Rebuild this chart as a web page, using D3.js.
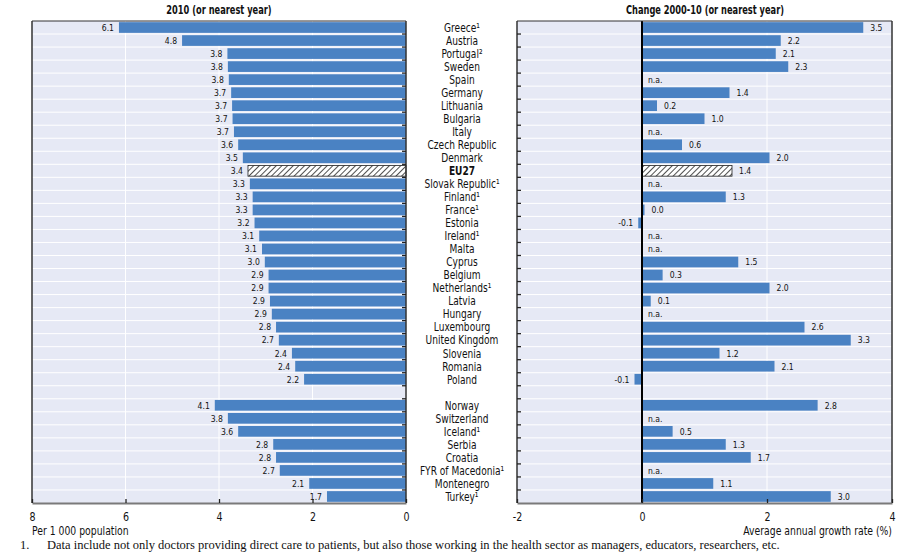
<!DOCTYPE html>
<html><head><meta charset="utf-8">
<script src="https://cdn.jsdelivr.net/npm/d3@7"></script>
<style>
body{margin:0;background:#fff}
svg{display:block}
text{font-family:"Liberation Sans Narrow","Arial Narrow","DejaVu Sans Condensed",sans-serif;fill:#111}
</style>
</head><body>
<svg id="c" width="915" height="552"></svg>
<script>
const countries = ["Greece¹","Austria","Portugal²","Sweden","Spain","Germany","Lithuania","Bulgaria","Italy","Czech Republic","Denmark","EU27","Slovak Republic¹","Finland¹","France¹","Estonia","Ireland¹","Malta","Cyprus","Belgium","Netherlands¹","Latvia","Hungary","Luxembourg","United Kingdom","Slovenia","Romania","Poland","","Norway","Switzerland","Iceland¹","Serbia","Croatia","FYR of Macedonia¹","Montenegro","Turkey¹"];
const density2010 = [6.14,4.79,3.82,3.81,3.79,3.74,3.72,3.71,3.68,3.59,3.49,3.38,3.34,3.28,3.28,3.24,3.14,3.08,3.02,2.94,2.94,2.91,2.87,2.78,2.72,2.44,2.37,2.18,null,4.09,3.81,3.59,2.84,2.78,2.70,2.07,1.69];
const growth2000_10 = [3.54,2.22,2.14,2.34,null,1.40,0.24,1.00,null,0.64,2.04,1.44,null,1.34,0.04,-0.06,null,null,1.54,0.33,2.04,0.14,null,2.60,3.34,1.24,2.12,-0.12,null,2.81,null,0.49,1.34,1.74,null,1.14,3.02];
const leftTicks = [8,6,4,2,0];
const rightTicks = [-2,0,2,4];
const leftTitle = "2010 (or nearest year)";
const rightTitle = "Change 2000-10 (or nearest year)";
const leftAxisTitle = "Per 1 000 population";
const rightAxisTitle = "Average annual growth rate (%)";
const footNum = "1.";
const footText = "Data include not only doctors providing direct care to patients, but also those working in the health sector as managers, educators, researchers, etc.";
const highlight = "EU27";

const svg = d3.select("#c");
const BLUE = "#4a82c3", BG = "#e6e9f5";
const n = countries.length;
const y = d3.scaleBand().domain(d3.range(n)).range([21, 503]).paddingInner(0.18).paddingOuter(0.09);
const xL = d3.scaleLinear().domain([0, 8]).range([406, 32]);
const xR = d3.scaleLinear().domain([-2, 4]).range([517, 892]);

function ctext(sel, x, yy, s) {
  return sel.append("text").attr("transform", `translate(${x},${yy}) scale(${s},1)`);
}

const defs = svg.append("defs");
const pat = defs.append("pattern").attr("id","hatch").attr("patternUnits","userSpaceOnUse")
  .attr("width",4).attr("height",4).attr("patternTransform","rotate(45)");
pat.append("rect").attr("width",4).attr("height",4).attr("fill","#fff");
pat.append("line").attr("x1",0).attr("y1",0).attr("x2",0).attr("y2",4).attr("stroke","#222").attr("stroke-width",1.6);

function panel(x, vals, gridVals, side) {
  const [x0, x1] = d3.extent(x.range());
  const [y0, y1] = y.range();
  const g = svg.append("g");
  g.append("rect").attr("x",x0).attr("y",y0).attr("width",x1-x0).attr("height",y1-y0).attr("fill",BG);
  g.selectAll(".hs").data(d3.range(1,n)).join("line")
    .attr("x1",x0).attr("x2",x1)
    .attr("y1",k=>y0+k*y.step()).attr("y2",k=>y0+k*y.step())
    .attr("stroke","#fff").attr("stroke-width",1);
  g.selectAll(".vs").data(gridVals).join("line")
    .attr("x1",d=>x(d)).attr("x2",d=>x(d)).attr("y1",y0).attr("y2",y1)
    .attr("stroke","#fff").attr("stroke-width",1);
  const rows = d3.range(n).filter(i => countries[i] !== "");
  const withVal = rows.filter(i => vals[i] !== null);
  g.selectAll(".bar").data(withVal).join("rect")
    .attr("x", i => Math.min(x(0), x(vals[i])))
    .attr("width", i => Math.max(1, Math.abs(x(vals[i]) - x(0))))
    .attr("y", i => y(i)).attr("height", y.bandwidth())
    .attr("fill", i => countries[i] === highlight ? "url(#hatch)" : BLUE)
    .attr("stroke", i => countries[i] === highlight ? "#222" : "none")
    .attr("stroke-width", 0.8);
  rows.forEach(i => {
    const v = vals[i];
    let lx, anchor;
    if (v === null) { lx = x(0) + 6; anchor = "start"; }
    else if (side === "left") { lx = x(v) - 5; anchor = "end"; }
    else if (v < 0) { lx = x(v) - 5; anchor = "end"; }
    else { lx = x(v) + 7; anchor = "start"; }
    ctext(g, lx, y(i) + y.bandwidth()/2, 0.9)
      .attr("dy","0.35em").attr("font-size", 9.5).attr("text-anchor", anchor)
      .text(v === null ? "n.a." : v.toFixed(1));
  });
  return g;
}

panel(xL, density2010, [6,4,2], "left");
panel(xR, growth2000_10, [2], "right");

svg.append("line").attr("x1",xR(0)).attr("x2",xR(0)).attr("y1",21).attr("y2",503)
  .attr("stroke","#000").attr("stroke-width",2);

function frame(x, tickX, tickDir) {
  const [x0, x1] = d3.extent(x.range());
  const [y0, y1] = y.range();
  const g = svg.append("g");
  g.append("line").attr("x1",x0).attr("x2",x1).attr("y1",y0).attr("y2",y0).attr("stroke","#333").attr("stroke-width",1);
  g.append("line").attr("x1",x0).attr("x2",x0).attr("y1",y0).attr("y2",y1).attr("stroke","#333").attr("stroke-width",1.5);
  g.append("line").attr("x1",x1).attr("x2",x1).attr("y1",y0).attr("y2",y1).attr("stroke","#333").attr("stroke-width",1.5);
  g.selectAll(".t").data(d3.range(1,n)).join("line")
    .attr("x1",tickX).attr("x2",tickX + tickDir*4)
    .attr("y1",k=>y0+k*y.step()).attr("y2",k=>y0+k*y.step())
    .attr("stroke","#222").attr("stroke-width",1.3);
}
frame(xL, 406, -1);
frame(xR, 517, 1);

function bottomAxis(x, ticks) {
  const ax = d3.axisBottom(x).tickValues(ticks).tickFormat(d => String(d)).tickSizeInner(-4).tickSizeOuter(0).tickPadding(9);
  const g = svg.append("g").attr("transform","translate(0,503)").call(ax);
  g.select(".domain").attr("stroke","#7a7a7a").attr("stroke-width",2);
  g.selectAll(".tick line").attr("stroke","#222").attr("stroke-width",1.3);
  g.selectAll(".tick text").attr("font-size",12).attr("font-family",null).style("fill","#111")
    .attr("transform","scale(0.88,1)");
  return g;
}
bottomAxis(xL, leftTicks);
bottomAxis(xR, rightTicks);

const gc = svg.append("g");
d3.range(n).filter(i=>countries[i]!=="").forEach(i => {
  ctext(gc, 462, y(i) + y.bandwidth()/2, 0.84)
    .attr("dy","0.36em").attr("text-anchor","middle").attr("font-size",12)
    .attr("font-weight", countries[i] === highlight ? "bold" : "normal")
    .text(countries[i]);
});

ctext(svg, 219, 14, 0.8).attr("text-anchor","middle").attr("font-size",11.5).attr("font-weight","bold").text(leftTitle);
ctext(svg, 705, 14, 0.8).attr("text-anchor","middle").attr("font-size",11.5).attr("font-weight","bold").text(rightTitle);

ctext(svg, 32, 535, 0.86).attr("font-size",12).text(leftAxisTitle);
ctext(svg, 892, 535, 0.86).attr("text-anchor","end").attr("font-size",12).text(rightAxisTitle);

svg.append("text").attr("x",20).attr("y",549).attr("font-size",12.5)
  .style("font-family","'Liberation Serif','DejaVu Serif',serif").text(footNum);
svg.append("text").attr("x",47).attr("y",549).attr("font-size",12.5)
  .style("font-family","'Liberation Serif','DejaVu Serif',serif").text(footText);
</script>
</body></html>
